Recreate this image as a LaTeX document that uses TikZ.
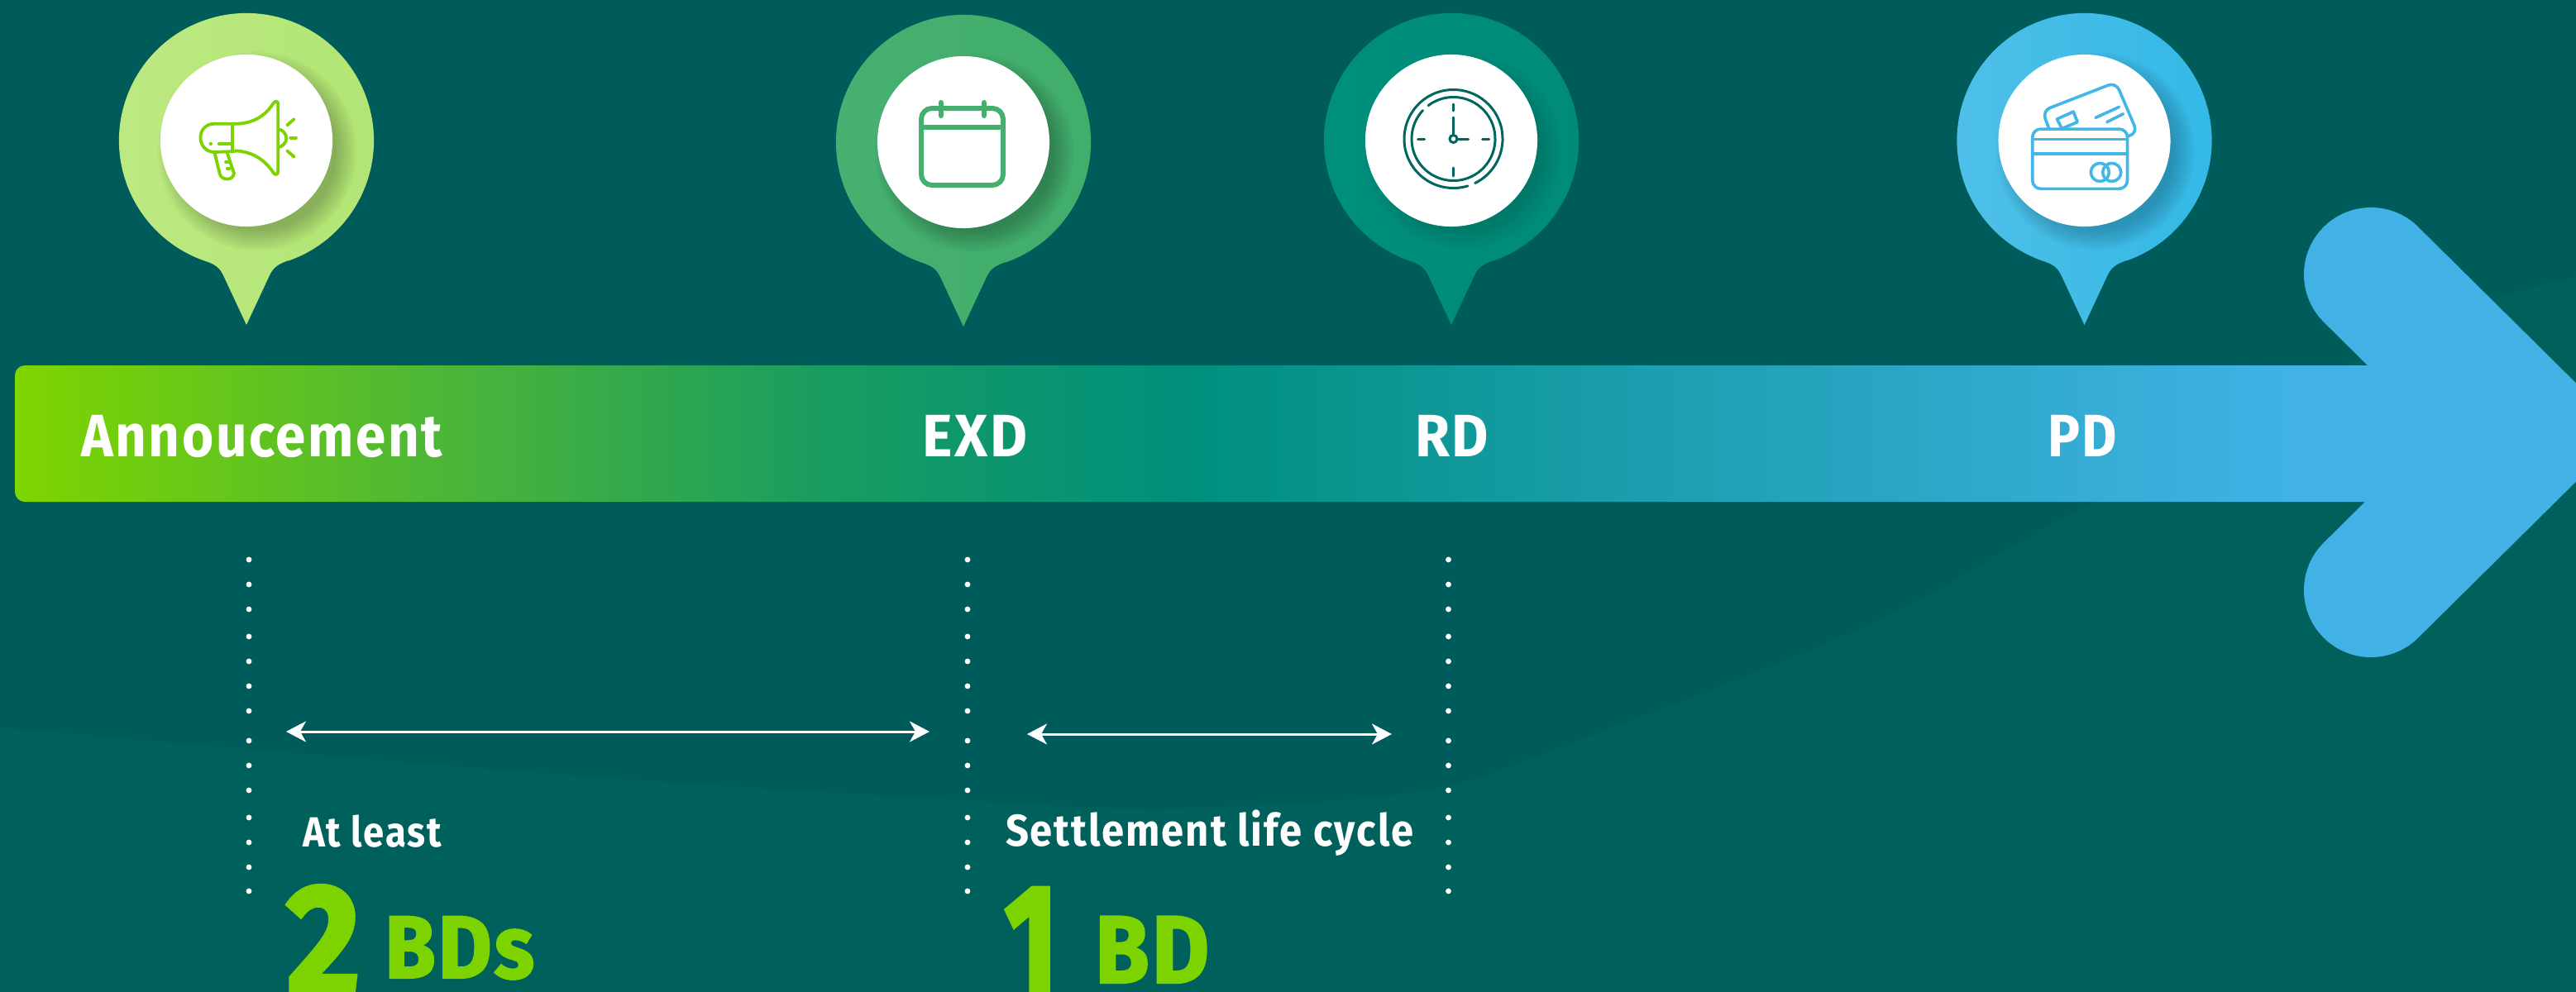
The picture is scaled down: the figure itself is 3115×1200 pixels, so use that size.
\documentclass[tikz,border=0pt]{standalone}
\usepackage{fontspec}
\usepackage{graphicx}
\usetikzlibrary{arrows.meta}
\setmainfont{Fira Sans}
\newfontfamily\labelfont[LetterSpace=4,BoldFont={Fira Sans Bold}]{Fira Sans}
\newfontfamily\heavyfont[BoldFont={Fira Sans Bold},BoldFeatures={FakeBold=3}]{Fira Sans}
\newfontfamily\midheavyfont[LetterSpace=3,BoldFont={Fira Sans Bold},BoldFeatures={FakeBold=2}]{Fira Sans}
\definecolor{bgtop}{RGB}{0,91,91}
\definecolor{bgwave}{RGB}{0,96,92}
\definecolor{cA}{RGB}{126,213,0}
\definecolor{cB}{RGB}{70,178,62}
\definecolor{cC}{RGB}{24,156,96}
\definecolor{cD}{RGB}{0,143,125}
\definecolor{cE}{RGB}{28,159,176}
\definecolor{cF}{RGB}{66,178,230}
\definecolor{limetxt}{RGB}{124,211,0}
\definecolor{clockdark}{RGB}{0,102,95}
\definecolor{calgreen}{RGB}{68,175,110}
\definecolor{cardblue}{RGB}{66,182,230}
\definecolor{pinAl}{RGB}{189,233,130}
\definecolor{pinAr}{RGB}{177,229,115}
\definecolor{pinBl}{RGB}{70,176,112}
\definecolor{pinBr}{RGB}{65,174,107}
\definecolor{pinCl}{RGB}{0,143,125}
\definecolor{pinCr}{RGB}{0,138,122}
\definecolor{pinDl}{RGB}{80,192,232}
\definecolor{pinDr}{RGB}{50,184,230}
\pgfdeclarehorizontalshading{barshade}{100bp}{
  color(0bp)=(cA); color(25bp)=(cA); color(35.1bp)=(cB); color(42bp)=(cC);
  color(49.7bp)=(cD); color(59.4bp)=(cE); color(72.9bp)=(cF); color(100bp)=(cF)}
\tikzset{
  txt/.style={anchor=base west,inner sep=0pt,outer sep=0pt},
  dotmark/.style={fill=white,draw=none},
  spanline/.style={draw=white,line width=0.03cm,
    {Stealth[length=0.24cm,width=0.25cm,inset=0.07cm]}-{Stealth[length=0.24cm,width=0.25cm,inset=0.07cm]}},
  iconline/.style={line cap=round,line join=round,fill=none},
}
% x, y, left colour, right colour, shadow opacity step
\newcommand{\pinmark}[5]{%
  \begin{scope}[shift={(#1,#2)},x=.01cm,y=.01cm]
    \path[left color=#3,right color=#4] (-70.6:1.54cm)
      arc[start angle=-70.6,end angle=250.6,radius=1.54cm]
      .. controls (-36,-150) and (-32,-155) .. (-28,-163) -- (0,-223) -- (28,-163)
      .. controls (32,-155) and (36,-150) .. (51,-145) -- cycle;
    \foreach \r in {0.96,0.99,...,1.22}
      \fill[black,opacity=#5] (13,-13) circle[radius=\r cm];
    \fill[white] (0,0) circle[radius=1.04cm];
  \end{scope}}
% width (cm), font size (pt), text
\newcommand{\fitw}[3]{\resizebox{#1cm}{\height}{\fontsize{#2}{#2}\labelfont\bfseries #3}}
\newcommand{\fitheavy}[3]{\resizebox{#1cm}{\height}{\fontsize{#2}{#2}\midheavyfont\bfseries #3}}
\newcommand{\fitdigit}[3]{\resizebox{#1cm}{\height}{\fontsize{#2}{#2}\heavyfont\bfseries #3}}
\begin{document}
\begin{tikzpicture}[x=.01cm,y=-.01cm]
\useasboundingbox (0,0) rectangle (3115,1200);
\clip (0,0) rectangle (3115,1200);
\fill[bgtop] (0,0) rectangle (3115,1200);
\fill[bgwave] (0,880) .. controls (400,915) and (800,950) .. (1160,967)
  .. controls (1300,978) and (1400,980) .. (1443,977)
  .. controls (1600,972) and (1720,965) .. (1803,936)
  .. controls (2000,860) and (2200,790) .. (2340,716)
  .. controls (2400,680) and (2470,640) .. (2528,609)
  .. controls (2700,520) and (2850,420) .. (3007,366)
  .. controls (3040,352) and (3080,342) .. (3115,335)
  -- (3115,1200) -- (0,1200) -- cycle;

% bar and arrow head
\path[shading=barshade,rounded corners=0.12cm] (18,442) rectangle (2900,607);
\fill[cF] (2800,442) rectangle (3080,607);
\coordinate (headA) at (2867,332);
\coordinate (headB) at (3060,523);
\coordinate (headC) at (2867,714);
\draw[cF,line width=1.62cm,line cap=round,line join=miter] (headA) -- (headB) -- (headC);

% pins
\pinmark{298}{170}{pinAl}{pinAr}{0.026}
\pinmark{1165}{172}{pinBl}{pinBr}{0.026}
\pinmark{1755}{170}{pinCl}{pinCr}{0.012}
\pinmark{2520.5}{170}{pinDl}{pinDr}{0.024}

% megaphone
\begin{scope}[shift={(100,0)},x=.003333cm,y=-.003333cm,limetxt,line width=0.038cm]
  \draw[iconline] (553,450) .. controls (620,450) and (665,420) .. (693,375)
     .. controls (698,367) and (710,365) .. (710,378) -- (710,622)
     .. controls (710,637) and (698,637) .. (693,628)
     .. controls (665,585) and (620,550) .. (553,548);
  \draw[iconline] (545,450) -- (545,548);
  \draw[iconline] (553,450) -- (478,450) .. controls (448,450) and (428,472) .. (428,500)
     .. controls (428,530) and (450,553) .. (478,553) -- (553,550);
  \draw[iconline] (495,523) -- (545,523);
  \fill (465,523) circle[radius=0.022cm];
  \draw[iconline] (480,558) -- (498,632) .. controls (503,655) and (545,660) .. (550,630) -- (525,555);
  \draw[iconline] (520,588) -- (530,588);
  \draw[iconline] (525,612) -- (535,612);
  \draw[iconline] (712,470) .. controls (730,472) and (740,490) .. (740,503)
     .. controls (740,520) and (725,533) .. (712,535);
  \draw[iconline] (743,455) -- (768,433);
  \draw[iconline] (755,501) -- (775,501);
  \draw[iconline] (743,548) -- (768,570);
\end{scope}

% calendar
\draw[calgreen,line width=0.06cm,rounded corners=0.13cm] (1114,131) rectangle (1213,224);
\draw[calgreen,line width=0.065cm] (1114,154) -- (1213,154);
\draw[calgreen,line width=0.06cm,line cap=round] (1137.5,124) -- (1137.5,140);
\draw[calgreen,line width=0.06cm,line cap=round] (1190,124) -- (1190,140);

% clock
\begin{scope}[shift={(1757.5,168)},x=.01cm,y=.01cm,clockdark,line width=0.03cm,line cap=round]
  \draw (-64:0.595cm) arc[start angle=-64,end angle=287,radius=0.595cm];
  \draw (127:0.505cm) arc[start angle=127,end angle=-223,radius=0.505cm];
  \draw[line width=0.03cm] (0,42) -- (0,34);
  \draw[line width=0.03cm] (0,-35) -- (0,-45);
  \draw[line width=0.03cm] (-43,0) -- (-35,0);
  \draw[line width=0.03cm] (35,0) -- (43,0);
  \draw[line width=0.03cm] (0,26) -- (0,5);
  \draw[line width=0.03cm] (6,0) -- (18,0);
  \draw[line width=0.03cm,fill=white] (0,0) circle[radius=0.045cm];
\end{scope}

% credit cards
\begin{scope}[shift={(2340,0)},x=.00494cm,y=-.00523cm,cardblue,line width=0.036cm]
  \draw[iconline,rounded corners=0.1cm] (278,296) -- (262,256) -- (442,190) -- (495,308) -- (470,315);
  \draw[iconline] (298,275) -- (338,258) -- (348,282) -- (310,297) -- cycle;
  \draw[iconline] (392,272) -- (450,247);
  \draw[iconline] (420,282) -- (460,263);
  \draw[iconline,rounded corners=0.1cm] (238,298) rectangle (470,436);
  \draw (238,322) -- (470,322);
  \draw (238,355) -- (470,355);
  \draw (403,398) circle[radius=0.11cm];
  \draw (432,398) circle[radius=0.11cm];
\end{scope}

% bar labels
\node[txt,white] (announce) at (98,552) {\fitw{4.37}{20.6pt}{Annoucement}};
\node[txt,white] (exd) at (1115,552) {\fitw{1.27}{20.6pt}{EXD}};
\node[txt,white] (rd) at (1711,552) {\fitw{0.89}{20.6pt}{RD}};
\node[txt,white] (pd) at (2476,552) {\fitw{0.84}{20.6pt}{PD}};

% dotted verticals
\foreach \dx in {301,1170,1751.5}
  \foreach \dy in {677,707,737,770,800,830,860,896,926,956,989,1019,1049,1078}
    \fill[dotmark] (\dx,\dy) circle[radius=0.034cm];

% spans
\coordinate (s1a) at (346,885);
\coordinate (s1b) at (1124,885);
\coordinate (s2a) at (1242,888);
\coordinate (s2b) at (1683,888);
\draw[spanline] (s1a) -- (s1b);
\draw[spanline] (s2a) -- (s2b);

% lower texts
\node[txt,white] (atleast) at (366,1024) {\fitw{1.68}{14.5pt}{At least}};
\node[txt,white] (settle) at (1216,1023) {\fitw{4.93}{15.3pt}{Settlement life cycle}};
\node[txt,limetxt] (two) at (347,1204) {\fitdigit{0.88}{54.5pt}{2}};
\node[txt,limetxt] (one) at (1215,1204) {\fitdigit{0.64}{54.5pt}{1}};
\node[txt,limetxt] (bds) at (465,1183) {\fitheavy{1.81}{30.5pt}{BDs}};
\node[txt,limetxt] (bd) at (1324,1189) {\fitheavy{1.38}{33pt}{BD}};
\end{tikzpicture}
\end{document}
